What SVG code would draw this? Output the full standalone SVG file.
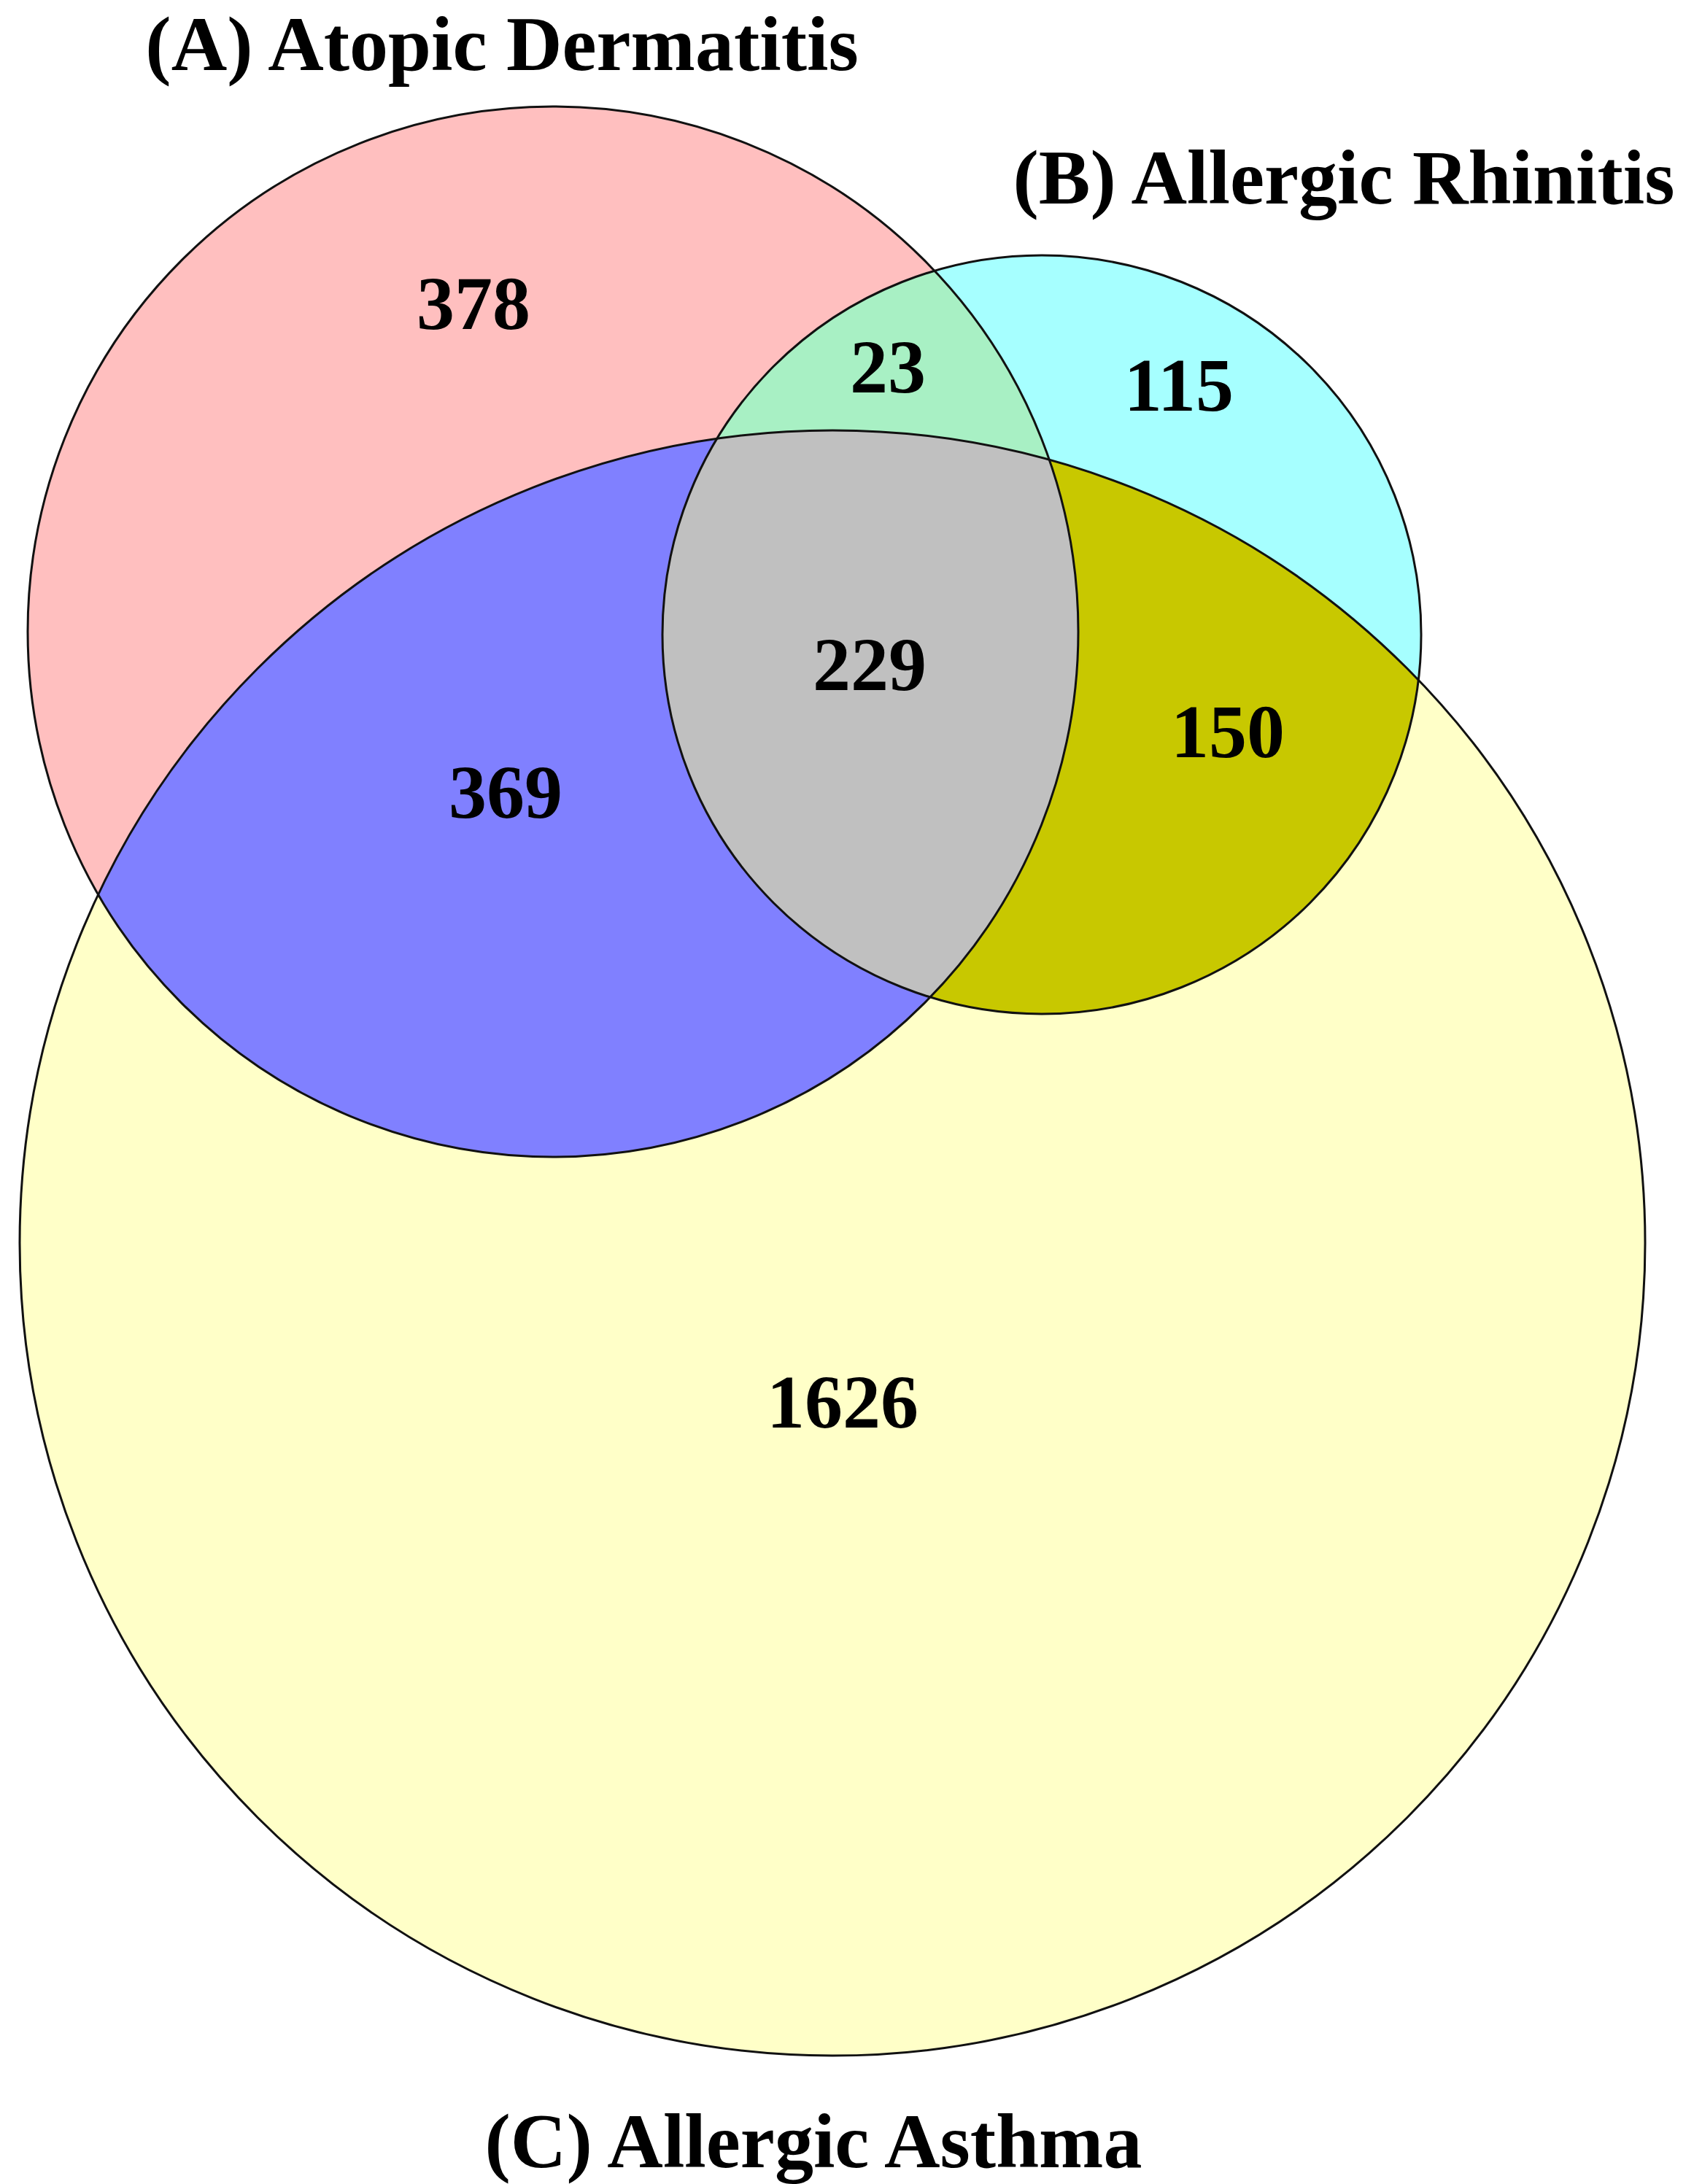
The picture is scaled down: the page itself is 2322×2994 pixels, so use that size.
<svg xmlns="http://www.w3.org/2000/svg" width="2322" height="2994" viewBox="0 0 2322 2994">
<style>
.lbl{font-family:"Liberation Serif","Times New Roman",serif;font-weight:bold;font-size:104px;fill:#000;text-anchor:middle}
.ttl{font-family:"Liberation Serif","Times New Roman",serif;font-weight:bold;font-size:106px;fill:#000;text-anchor:middle}
.ring{fill:none;stroke:#111;stroke-width:3}
</style>
<defs>
<clipPath id="clipA"><circle cx="758" cy="866" r="720"/></clipPath>
<clipPath id="clipB"><circle cx="1428" cy="870" r="520"/></clipPath>
<clipPath id="clipC"><circle cx="1141" cy="1704" r="1114"/></clipPath>
</defs>
<rect width="2322" height="2994" fill="#fff"/>
<g id="setC"><circle cx="1141" cy="1704" r="1114" fill="#FFFFC8"/></g>
<g id="setA"><circle cx="758" cy="866" r="720" fill="#FFBFBF"/></g>
<g id="setB"><circle cx="1428" cy="870" r="520" fill="#A6FFFF"/></g>
<g id="regionAC"><circle cx="758" cy="866" r="720" fill="#8080FF" clip-path="url(#clipC)"/></g>
<g id="regionAB"><circle cx="1428" cy="870" r="520" fill="#A8F0C4" clip-path="url(#clipA)"/></g>
<g id="regionBC"><circle cx="1428" cy="870" r="520" fill="#C8C800" clip-path="url(#clipC)"/></g>
<g id="regionABC" clip-path="url(#clipA)"><circle cx="1428" cy="870" r="520" fill="#C0C0C0" clip-path="url(#clipC)"/></g>
<g id="outlines">
<circle class="ring" cx="1141" cy="1704" r="1114"/>
<circle class="ring" cx="758" cy="866" r="720"/>
<circle class="ring" cx="1428" cy="870" r="520"/>
</g>
<g id="counts">
<text class="lbl" x="649" y="451">378</text>
<text class="lbl" x="1217" y="538">23</text>
<text class="lbl" x="1616" y="563">115</text>
<text class="lbl" x="693" y="1121">369</text>
<text class="lbl" x="1192" y="946">229</text>
<text class="lbl" x="1683" y="1038">150</text>
<text class="lbl" x="1155" y="1957">1626</text>
</g>
<g id="titles">
<text class="ttl" x="688" y="96">(A) Atopic Dermatitis</text>
<text class="ttl" x="1842" y="279">(B) Allergic Rhinitis</text>
<text class="ttl" x="1115" y="2971">(C) Allergic Asthma</text>
</g>
</svg>
